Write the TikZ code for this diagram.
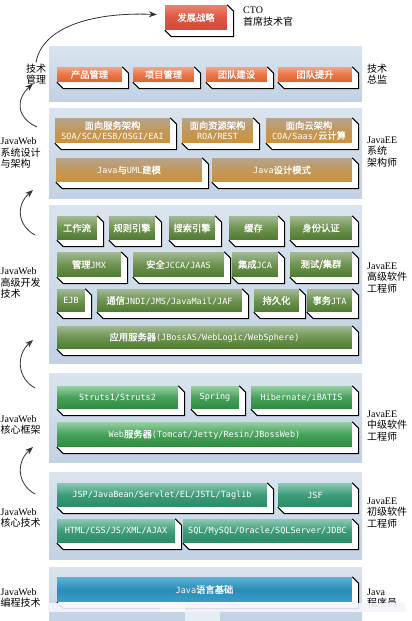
\documentclass[tikz,border=0pt]{standalone}
\usepackage{fontspec}
\setmainfont{Liberation Serif}
\newfontfamily\cjk{Noto Sans CJK SC}
\newfontfamily\cjkb[FakeBold=1]{Noto Sans CJK SC}
\newfontfamily\boxmono{DejaVu Sans Mono}
\usetikzlibrary{calc,arrows.meta}
\newcommand\zh[1]{{\cjkb\fontsize{9.3}{10}\selectfont #1}}
\newcommand\lz[1]{{\cjk #1}}
\definecolor{pantop}{HTML}{DAE4EF}
\definecolor{panbot}{HTML}{C2D2E3}
\definecolor{redT}{HTML}{E98474}\definecolor{redM}{HTML}{DC5642}\definecolor{redB}{HTML}{D34A38}
\definecolor{orT}{HTML}{F2A585}\definecolor{orM}{HTML}{EA7446}\definecolor{orB}{HTML}{DE622E}
\definecolor{goT}{HTML}{B5A48E}\definecolor{goM}{HTML}{C3975A}\definecolor{goB}{HTML}{CD9238}
\definecolor{olT}{HTML}{A3B995}\definecolor{olM}{HTML}{6E9350}\definecolor{olB}{HTML}{4F7A2F}
\definecolor{grT}{HTML}{98CFA3}\definecolor{grM}{HTML}{45A15A}\definecolor{grB}{HTML}{2E8A3F}
\definecolor{teT}{HTML}{8CC8B3}\definecolor{teM}{HTML}{3C9C7A}\definecolor{teB}{HTML}{2A8A66}
\definecolor{blT}{HTML}{5DB3D6}\definecolor{blM}{HTML}{2A8DB8}\definecolor{blB}{HTML}{3A9DC6}
\tikzset{
  panel/.style={inner sep=0pt, top color=pantop, bottom color=panbot, draw=none},
  face/.style={inner sep=0pt, text=white, align=center,
    font=\boxmono\fontsize{8.5}{10}\selectfont},
  ext/.style={fill=white},
  edge/.style={draw=black, line width=1pt, line join=miter},
  redbox/.style={top color=redT, bottom color=redB, middle color=redM},
  orangebox/.style={top color=orT, bottom color=orB, middle color=orM},
  goldbox/.style={top color=goT, bottom color=goB, middle color=goM},
  olivebox/.style={top color=olT, bottom color=olB, middle color=olM},
  greenbox/.style={top color=grT, bottom color=grB, middle color=grM},
  tealbox/.style={top color=teT, bottom color=teB, middle color=teM},
  bluebox/.style={top color=blT, bottom color=blB, middle color=blM},
  lab/.style={inner sep=0pt, align=left, font=\fontsize{10}{11.5}\selectfont},
  arr/.style={draw=black!80, line width=0.8pt, -{Stealth[length=8pt,width=6pt]}}
}
\newcommand\pnl[3]{%
  \node[panel, minimum width=313pt, minimum height={(#3-#2)*1pt}] (#1) at (205.5,{(#2+#3)/2}) {};}
\newcommand\cb[7]{%
  \node[face,#6,minimum width={(#4-#2)*1pt},minimum height={(#5-#3)*1pt}] (#1) at ({(#2+#4)/2},{(#3+#5)/2}) {#7};
  \fill[ext] (#1.south west) -- ++(6.5,6.5) -- ($(#1.south east)+(6.5,6.5)$) -- ($(#1.north east)+(6.5,6.5)$) -- (#1.north east) -- (#1.south east) -- cycle;
  \draw[edge] (#1.south west) -- ++(6.5,6.5) -- ($(#1.south east)+(6.5,6.5)$) -- ($(#1.north east)+(6.5,6.5)$) -- (#1.north east);}
\begin{document}
\begin{tikzpicture}[x=1pt,y=-1pt]
\useasboundingbox[fill=white] (0,0) rectangle (412,621);
% panels
\pnl{P1}{46}{101}
\pnl{P2}{108}{198}
\pnl{P3}{205}{363}
\pnl{P4}{373}{462}
\pnl{P5}{472}{559}
\pnl{P6}{567}{621}
% top
\cb{T}{165}{5}{227}{30}{redbox}{\zh{发展战略}}
\node[lab, anchor=north west] (cto) at (243,7) {CTO\\\lz{首席技术官}};
% panel 1
\cb{a1}{57}{67}{122}{82}{orangebox}{\zh{产品管理}}
\cb{a2}{133}{67}{194}{82}{orangebox}{\zh{项目管理}}
\cb{a3}{206}{67}{267}{82}{orangebox}{\zh{团队建设}}
\cb{a4}{278}{67}{352}{82}{orangebox}{\zh{团队提升}}
% panel 2
\cb{b1}{55}{118}{170}{143}{goldbox}{\zh{面向服务架构}\\SOA/SCA/ESB/OSGI/EAI}
\cb{b2}{182}{118}{253}{143}{goldbox}{\zh{面向资源架构}\\ROA/REST}
\cb{b3}{266}{118}{352}{143}{goldbox}{\zh{面向云架构}\\COA/Saas/\zh{云计算}}
\cb{b4}{56}{158}{202}{182}{goldbox}{Java\zh{与}UML\zh{建模}}
\cb{b5}{212}{158}{352}{182}{goldbox}{Java\zh{设计模式}}
% panel 3
\cb{c1}{57}{216}{97}{240}{olivebox}{\zh{工作流}}
\cb{c2}{109}{216}{155}{240}{olivebox}{\zh{规则引擎}}
\cb{c3}{169}{216}{215}{240}{olivebox}{\zh{搜索引擎}}
\cb{c4}{229}{216}{278}{240}{olivebox}{\zh{缓存}}
\cb{c5}{290}{216}{352}{240}{olivebox}{\zh{身份认证}}
\cb{c6}{57}{252}{121}{277}{olivebox}{\zh{管理}JMX}
\cb{c7}{133}{252}{224}{277}{olivebox}{\zh{安全}JCCA/JAAS}
\cb{c8}{232}{252}{278}{277}{olivebox}{\zh{集成}JCA}
\cb{c9}{290}{252}{352}{277}{olivebox}{\zh{测试/集群}}
\cb{c10}{57}{289}{85}{312}{olivebox}{EJB}
\cb{c11}{97}{289}{242}{312}{olivebox}{\zh{通信}JNDI/JMS/JavaMail/JAF}
\cb{c12}{254}{289}{299}{312}{olivebox}{\zh{持久化}}
\cb{c13}{307}{289}{352}{312}{olivebox}{\zh{事务}JTA}
\cb{c14}{57}{326}{352}{349}{olivebox}{\zh{应用服务器}(JBossAS/WebLogic/WebSphere)}
% panel 4
\cb{d1}{57}{386}{178}{409}{greenbox}{Struts1/Struts2}
\cb{d2}{191}{386}{239}{409}{greenbox}{Spring}
\cb{d3}{251}{386}{352}{409}{greenbox}{Hibernate/iBATIS}
\cb{d4}{57}{422}{352}{447}{greenbox}{Web\zh{服务器}(Tomcat/Jetty/Resin/JBossWeb)}
% panel 5
\cb{e1}{57}{483}{267}{507}{tealbox}{JSP/JavaBean/Servlet/EL/JSTL/Taglib}
\cb{e2}{278}{483}{352}{507}{tealbox}{JSF}
\cb{e3}{57}{519}{175}{543}{tealbox}{HTML/CSS/JS/XML/AJAX}
\cb{e4}{183}{519}{352}{543}{tealbox}{SQL/MySQL/Oracle/SQLServer/JDBC}
% panel 6
\cb{f1}{57}{577}{352}{602}{bluebox}{Java\zh{语言基础}}
% left labels
\node[lab, align=center] (L1) at (36,74) {\lz{技术}\\\lz{管理}};
\node[lab, anchor=west] (L2) at (0.5,153) {JavaWeb\\\lz{系统设计}\\\lz{与架构}};
\node[lab, anchor=west] (L3) at (0.5,283) {JavaWeb\\\lz{高级开发}\\\lz{技术}};
\node[lab, anchor=west] (L4) at (0.5,425) {JavaWeb\\\lz{核心框架}};
\node[lab, anchor=west] (L5) at (0.5,518) {JavaWeb\\\lz{核心技术}};
\node[lab, anchor=west] (L6) at (0.5,598) {JavaWeb\\\lz{编程技术}};
% right labels
\node[lab, anchor=west] (R1) at (367,74) {\lz{技术}\\\lz{总监}};
\node[lab, anchor=west] (R2) at (367,152) {JavaEE\\\lz{系统}\\\lz{架构师}};
\node[lab, anchor=west] (R3) at (367,278) {JavaEE\\\lz{高级软件}\\\lz{工程师}};
\node[lab, anchor=west] (R4) at (367,426) {JavaEE\\\lz{中级软件}\\\lz{工程师}};
\node[lab, anchor=west] (R5) at (367,513) {JavaEE\\\lz{初级软件}\\\lz{工程师}};
\node[lab, anchor=west] (R6) at (367,598) {Java\\\lz{程序员}};
% arrows
\coordinate (h1) at ($(T.west)+(-8,-3)$);
\coordinate (t1) at ($(L1.north)+(0,-1)$);
\draw[arr] (t1) .. controls (42,28) and (90,12) .. (h1);
\coordinate (t2) at (37,127);
\coordinate (h2) at ($(L1.south)+(-3,-1)$);
\draw[arr] (t2) .. controls (17,118) and (15,100) .. (h2);
\coordinate (t3) at (35,235);
\coordinate (h3) at (33,190);
\draw[arr] (t3) .. controls (17,225) and (16,205) .. (h3);
\coordinate (t4) at (35,388);
\coordinate (h4) at (33,340);
\draw[arr] (t4) .. controls (17,378) and (16,355) .. (h4);
\coordinate (t5) at (35,494);
\coordinate (h5) at (33,447);
\draw[arr] (t5) .. controls (17,484) and (16,462) .. (h5);
% blurred band at the bottom
\fill[black!12!blue!4!white, opacity=0.9] (48,603) rectangle (405,612);
\fill[white, opacity=0.5] (160,603) rectangle (185,612);
\fill[white, opacity=0.6] (185,612) rectangle (220,621);
\end{tikzpicture}
\end{document}
